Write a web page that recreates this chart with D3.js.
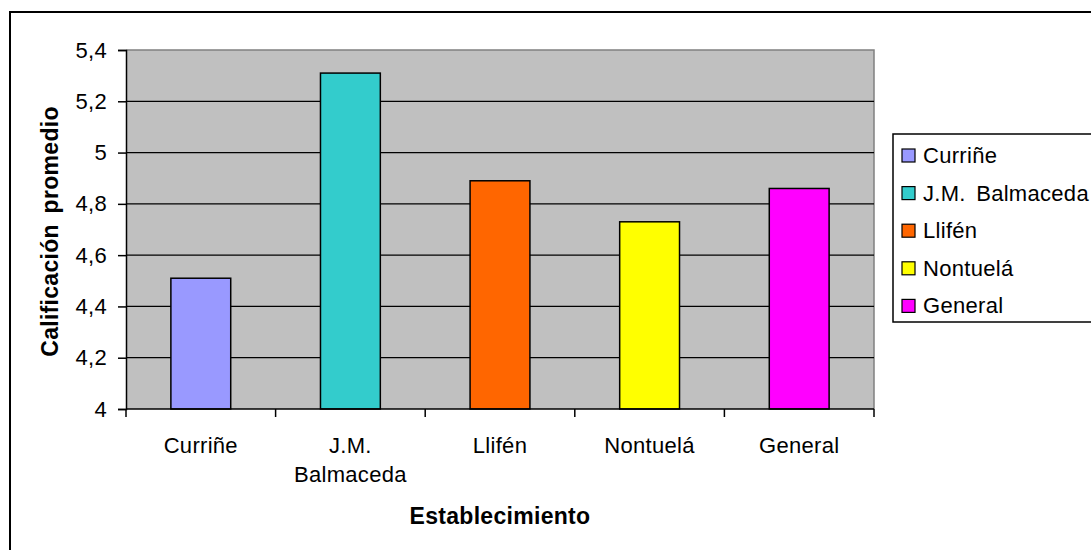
<!DOCTYPE html>
<html>
<head>
<meta charset="utf-8">
<script src="https://cdn.jsdelivr.net/npm/d3@7"></script>
<style>
  html, body { margin: 0; padding: 0; background: #fff; }
  svg { display: block; }
  text { font-family: "Liberation Sans", Arial, sans-serif; fill: #000; letter-spacing: 0.3px; word-spacing: 4px; }
</style>
</head>
<body>
<svg id="chart" width="1091" height="550"></svg>
<script>
// ---- data ----
const categories = ["Curriñe", "J.M. Balmaceda", "Llifén", "Nontuelá", "General"];
const axisLabelLines = [["Curriñe"], ["J.M.", "Balmaceda"], ["Llifén"], ["Nontuelá"], ["General"]];
const values = [4.51, 5.31, 4.89, 4.73, 4.86];
const colors = ["#9999FF", "#33CCCC", "#FF6600", "#FFFF00", "#FF00FF"];
const yTicks = [4, 4.2, 4.4, 4.6, 4.8, 5, 5.2, 5.4];
const yTickLabels = ["4", "4,2", "4,4", "4,6", "4,8", "5", "5,2", "5,4"];
const yTitle = "Calificación promedio";
const xTitle = "Establecimiento";

// ---- layout ----
const svg = d3.select("#chart");
const W = 1091, H = 550;
const plot = { left: 126, right: 874, top: 50, bottom: 409 };

svg.append("rect").attr("width", W).attr("height", H).attr("fill", "#fff");
// outer chart border (extends past right/bottom edges)
svg.append("rect").attr("x", 10).attr("y", 12).attr("width", 1100).attr("height", 560)
  .attr("fill", "none").attr("stroke", "#000").attr("stroke-width", 2);

const x = d3.scaleBand().domain(categories).range([plot.left, plot.right])
  .paddingInner(0.6).paddingOuter(0.3);
const y = d3.scaleLinear().domain([4, 5.4]).range([plot.bottom, plot.top]);

// plot background
svg.append("rect").attr("x", plot.left).attr("y", plot.top)
  .attr("width", plot.right - plot.left).attr("height", plot.bottom - plot.top)
  .attr("fill", "#C0C0C0");
// gray frame top/right
svg.append("path")
  .attr("d", `M${plot.left},${plot.top}H${plot.right}V${plot.bottom}`)
  .attr("fill", "none").attr("stroke", "#808080").attr("stroke-width", 1.5);

// gridlines
svg.append("g").selectAll("line")
  .data(yTicks.filter(t => t > 4 && t < 5.4))
  .join("line")
  .attr("x1", plot.left).attr("x2", plot.right)
  .attr("y1", d => y(d)).attr("y2", d => y(d))
  .attr("stroke", "#000").attr("stroke-width", 1.3);

// bars
svg.append("g").selectAll("rect")
  .data(values)
  .join("rect")
  .attr("x", (d, i) => x(categories[i]))
  .attr("width", x.bandwidth())
  .attr("y", d => y(d))
  .attr("height", d => y(4) - y(d))
  .attr("fill", (d, i) => colors[i])
  .attr("stroke", "#000").attr("stroke-width", 1.5);

// y axis
const yAxis = d3.axisLeft(y).tickValues(yTicks)
  .tickFormat((d, i) => yTickLabels[i]).tickSize(8).tickPadding(11);
const gy = svg.append("g").attr("transform", `translate(${plot.left},0)`).call(yAxis);
gy.select(".domain").attr("stroke", "#000").attr("stroke-width", 1.5);
gy.selectAll(".tick line").attr("stroke", "#000").attr("stroke-width", 1.5);
gy.selectAll(".tick text").attr("font-size", 22).attr("font-family", "Liberation Sans, Arial, sans-serif").attr("fill", "#000");

// x axis line & boundary ticks
const step = x.step();
const boundaries = d3.range(categories.length + 1).map(i => plot.left + i * step);
svg.append("line").attr("x1", plot.left).attr("x2", plot.right)
  .attr("y1", plot.bottom).attr("y2", plot.bottom)
  .attr("stroke", "#000").attr("stroke-width", 1.5);
svg.append("g").selectAll("line").data(boundaries).join("line")
  .attr("x1", d => d).attr("x2", d => d)
  .attr("y1", plot.bottom).attr("y2", plot.bottom + 8)
  .attr("stroke", "#000").attr("stroke-width", 1.5);

// x labels
const xl = svg.append("g").selectAll("text").data(categories).join("text")
  .attr("x", d => x(d) + x.bandwidth() / 2)
  .attr("y", 445)
  .attr("text-anchor", "middle")
  .attr("dominant-baseline", "central")
  .attr("font-size", 22);
xl.each(function(d, i) {
  const t = d3.select(this);
  axisLabelLines[i].forEach((line, j) => {
    t.append("tspan").attr("x", x(d) + x.bandwidth() / 2)
      .attr("dy", j === 0 ? 0 : 29).text(line);
  });
});

// axis titles
svg.append("text")
  .attr("x", (plot.left + plot.right) / 2).attr("y", 516)
  .attr("text-anchor", "middle").attr("dominant-baseline", "central")
  .attr("font-size", 23).attr("font-weight", "bold").text(xTitle);
svg.append("text")
  .attr("transform", `translate(50,${(plot.top + plot.bottom) / 2 + 2}) rotate(-90)`)
  .attr("text-anchor", "middle").attr("dominant-baseline", "central")
  .attr("font-size", 23).attr("font-weight", "bold").text(yTitle);

// legend
const legend = svg.append("g");
legend.append("rect").attr("x", 893).attr("y", 134).attr("width", 260).attr("height", 188)
  .attr("fill", "#fff").attr("stroke", "#000").attr("stroke-width", 1.5);
const rowY = i => 155.5 + i * 37.6;
legend.selectAll("rect.sw").data(categories).join("rect").attr("class", "sw")
  .attr("x", 902).attr("y", (d, i) => rowY(i) - 6.5)
  .attr("width", 13).attr("height", 13)
  .attr("fill", (d, i) => colors[i]).attr("stroke", "#000").attr("stroke-width", 1.2);
legend.selectAll("text").data(categories).join("text")
  .attr("x", 923).attr("y", (d, i) => rowY(i))
  .attr("dominant-baseline", "central")
  .attr("font-size", 22).text(d => d);
</script>
</body>
</html>
